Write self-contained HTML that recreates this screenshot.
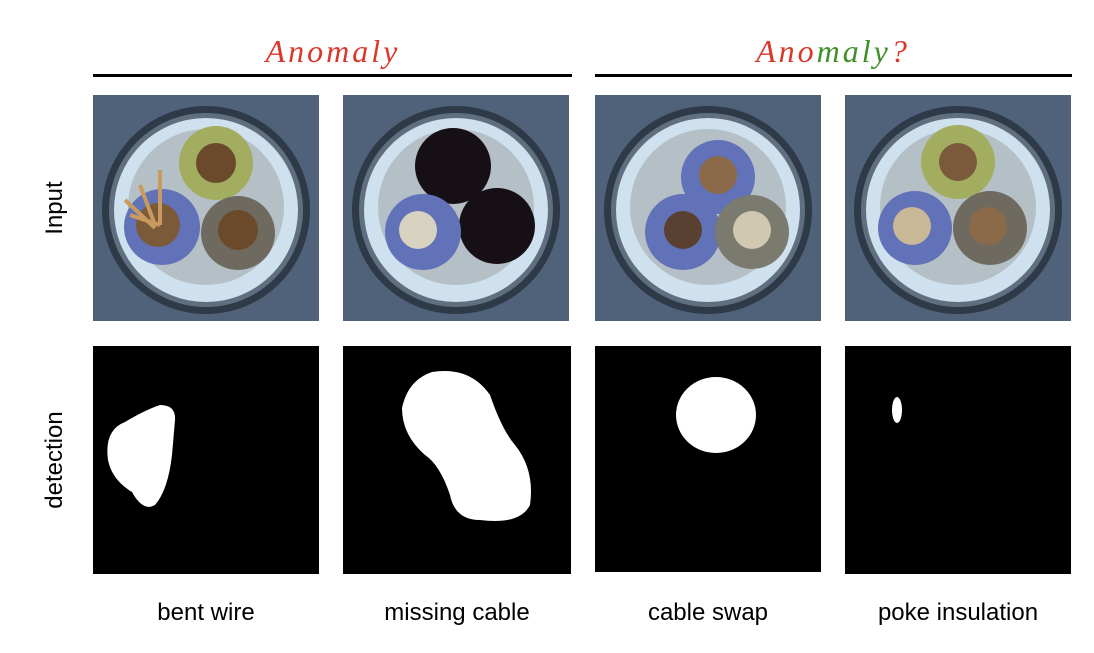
<!DOCTYPE html>
<html><head><style>body{margin:0;background:#fff}</style></head><body>
<svg width="1094" height="648" xmlns="http://www.w3.org/2000/svg">
<defs>
<g id="cab">
<rect x="0" y="0" width="226" height="226" fill="#50617a"/>
<circle cx="113" cy="115" r="104" fill="#2e3a48"/>
<circle cx="113" cy="115" r="97" fill="#5f6f80"/>
<circle cx="113" cy="115" r="92" fill="#cfe0ee"/>
<circle cx="113" cy="112" r="78" fill="#b4c0c6"/>
</g>
</defs>
<text x="333" y="62" font-family="Liberation Serif,serif" font-style="italic" font-size="32" letter-spacing="3" fill="#d9382a" text-anchor="middle">Anomaly</text>
<text x="833" y="62" font-family="Liberation Serif,serif" font-style="italic" font-size="32" letter-spacing="3" text-anchor="middle"><tspan fill="#d9382a">Ano</tspan><tspan fill="#3f8f2a">maly</tspan><tspan fill="#d9382a">?</tspan></text>
<rect x="93" y="74" width="479" height="3" fill="#000"/>
<rect x="595" y="74" width="477" height="3" fill="#000"/>
<text x="62" y="208" font-family="Liberation Sans,sans-serif" font-size="24" transform="rotate(-90 62 208)" text-anchor="middle">Input</text>
<text x="62" y="460" font-family="Liberation Sans,sans-serif" font-size="24" transform="rotate(-90 62 460)" text-anchor="middle">detection</text>
<use href="#cab" x="93" y="95"/>
<circle cx="216" cy="163" r="37" fill="#a3ad60"/><circle cx="216" cy="163" r="20" fill="#6a4a2a"/>
<circle cx="162" cy="227" r="38" fill="#6272b8"/><circle cx="158" cy="225" r="22" fill="#7a5a38"/>
<circle cx="238" cy="233" r="37" fill="#6f6a60"/><circle cx="238" cy="230" r="20" fill="#6a4a2a"/>
<path d="M125 200 l30 28 M140 185 l15 40 M160 170 l0 55 M130 215 l30 10" stroke="#c89a60" stroke-width="4"/>
<use href="#cab" x="343" y="95"/>
<circle cx="453" cy="166" r="38" fill="#160f15"/><circle cx="497" cy="226" r="38" fill="#160f15"/>
<circle cx="423" cy="232" r="38" fill="#6272b8"/><circle cx="418" cy="230" r="19" fill="#d8d2c0"/>
<use href="#cab" x="595" y="95"/>
<circle cx="718" cy="177" r="37" fill="#6272b8"/><circle cx="718" cy="175" r="19" fill="#8a6a48"/>
<circle cx="683" cy="232" r="38" fill="#6272b8"/><circle cx="683" cy="230" r="19" fill="#5a4030"/>
<circle cx="752" cy="232" r="37" fill="#7a7a6e"/><circle cx="752" cy="230" r="19" fill="#d0c8b0"/>
<use href="#cab" x="845" y="95"/>
<circle cx="958" cy="162" r="37" fill="#a3ad60"/><circle cx="958" cy="162" r="19" fill="#7a5a3a"/>
<circle cx="915" cy="228" r="37" fill="#6272b8"/><circle cx="912" cy="226" r="19" fill="#c8b898"/>
<circle cx="990" cy="228" r="37" fill="#6f6a60"/><circle cx="988" cy="226" r="19" fill="#8a6a48"/>
<rect x="93" y="346" width="226" height="228" fill="#000"/>
<rect x="343" y="346" width="228" height="228" fill="#000"/>
<rect x="595" y="346" width="226" height="226" fill="#000"/>
<rect x="845" y="346" width="226" height="228" fill="#000"/>
<path d="M160 405 Q176 405 175 420 L172 455 Q168 490 155 505 Q143 512 132 492 Q112 480 108 460 Q104 430 125 422 Q145 410 160 405Z" fill="#fff"/>
<path d="M432 372 Q470 366 490 395 Q502 430 515 445 Q535 470 530 505 Q520 525 480 520 Q455 520 450 495 Q440 465 425 455 Q402 435 402 408 Q408 380 432 372Z" fill="#fff"/>
<ellipse cx="716" cy="415" rx="40" ry="38" fill="#fff"/>
<ellipse cx="897" cy="410" rx="5" ry="13" fill="#fff"/>
<g font-family="Liberation Sans,sans-serif" font-size="24" text-anchor="middle">
<text x="206" y="620">bent wire</text>
<text x="457" y="620">missing cable</text>
<text x="708" y="620">cable swap</text>
<text x="958" y="620">poke insulation</text>
</g>
</svg>
</body></html>
